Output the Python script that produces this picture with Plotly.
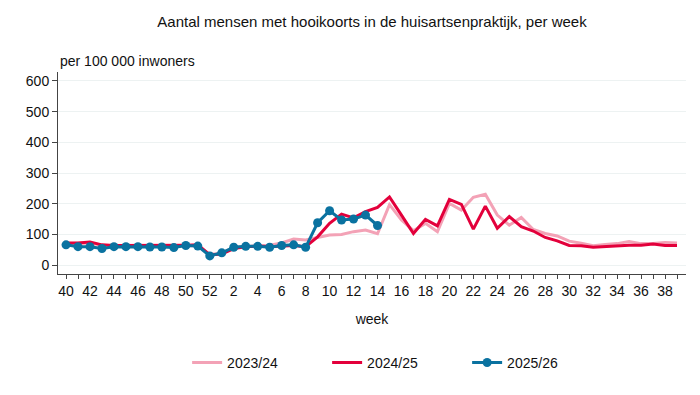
import plotly.graph_objects as go

weeks = list(range(40, 53)) + list(range(1, 40))

s2023 = [70, 70, 72, 65, 62, 63, 63, 62, 61, 62, 63, 63, 35,
         38, 58, 60, 62, 65, 72, 85, 82, 90, 98, 100, 109, 114, 102, 197, 147, 112, 136, 109,
         201, 179, 221, 231, 163, 130, 155, 116, 103, 95, 78, 71, 63, 67, 70, 77, 70, 70, 74, 72]
s2024 = [72, 72, 75, 66, 64, 64, 64, 63, 63, 64, 65, 66, 33,
         36, 54, 60, 62, 60, 62, 64, 60, 92, 136, 166, 154, 174, 188, 222, 163, 103, 149, 128,
         214, 198, 117, 192, 120, 158, 125, 111, 90, 79, 64, 63, 58, 61, 64, 65, 65, 69, 64, 64]
s2025 = [66, 60, 60, 54, 60, 60, 60, 59, 59, 57, 64, 62, 30,
         40, 58, 61, 61, 58, 64, 66, 58, 138, 177, 147, 150, 163, 129] + [None] * 25

ytick_vals = [0, 100, 200, 300, 400, 500, 600]

idx = list(range(len(weeks)))
ticktext = [str(w) if w % 2 == 0 else "" for w in weeks]

FONT = "Liberation Sans, Arial, sans-serif"

fig = go.Figure()
fig.add_trace(go.Scatter(x=idx, y=s2023, mode="lines", name="2023/24",
                         line=dict(color="#f3a2b6", width=3)))
fig.add_trace(go.Scatter(x=idx, y=s2024, mode="lines", name="2024/25",
                         line=dict(color="#e3003b", width=3)))
fig.add_trace(go.Scatter(x=idx, y=s2025, mode="lines+markers", name="2025/26",
                         line=dict(color="#0a72a0", width=3),
                         marker=dict(color="#0a72a0", size=9)))

W, H = 692, 387
fig.update_layout(
    width=W, height=H,
    margin=dict(l=50, r=14, t=64, b=121, autoexpand=False),
    paper_bgcolor="white", plot_bgcolor="white",
    font=dict(family=FONT, size=14, color="#111"),
    title=dict(text="Aantal mensen met hooikoorts in de huisartsenpraktijk, per week",
               x=0.5, xref="paper", xanchor="center", y=1 - 14 / H, yref="container",
               yanchor="middle", font=dict(size=15, color="#111")),
    showlegend=True,
    legend=dict(orientation="h", x=0.54, xanchor="center",
                y=-0.44, yanchor="middle", font=dict(size=14, color="#111"),
                entrywidth=95, entrywidthmode="pixels", tracegroupgap=0),
    annotations=[dict(text="per 100 000 inwoners", xref="paper", yref="paper",
                      x=0, y=1, xanchor="left", yanchor="bottom", xshift=0, yshift=1,
                      showarrow=False, font=dict(size=14, color="#111"))],
)

fig.update_xaxes(
    range=[-0.67, 51.75], tickmode="array", tickvals=idx, ticktext=ticktext,
    tickangle=0,
    ticks="outside", ticklen=4, tickcolor="#444", showline=True, linecolor="#444",
    linewidth=1, showgrid=False, zeroline=False,
    title=dict(text="week", standoff=16, font=dict(size=14, color="#111")),
    tickfont=dict(size=14, color="#111"),
)
fig.update_yaxes(
    range=[-29, 629], tickmode="array", tickvals=ytick_vals,
    ticks="outside", ticklen=5, tickcolor="#444", showline=True, linecolor="#444",
    linewidth=1, showgrid=True, gridcolor="#edf2f2", gridwidth=1, zeroline=False,
    tickfont=dict(size=14, color="#111"),
)

fig.write_html("out.html")
